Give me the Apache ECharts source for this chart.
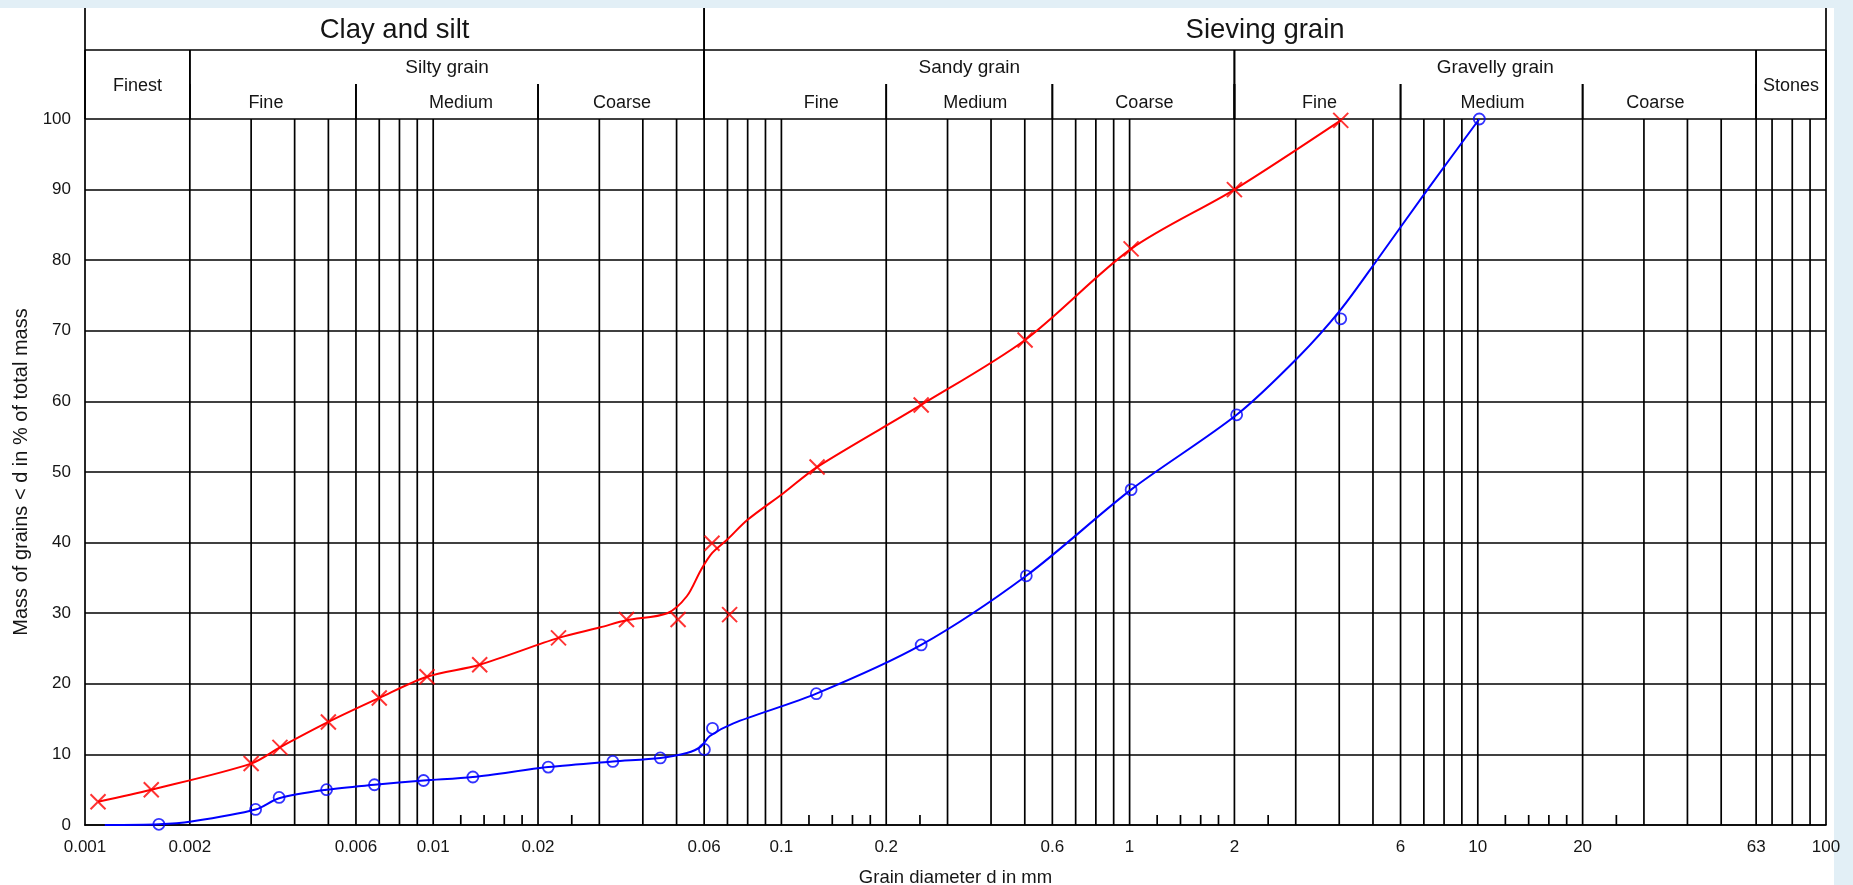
<!DOCTYPE html>
<html>
<head>
<meta charset="utf-8">
<script src="https://cdn.jsdelivr.net/npm/echarts@6/dist/echarts.min.js"></script>
<style>
  html, body { margin: 0; padding: 0; background: #fff; }
  #chart { width: 1853px; height: 885px; }
</style>
</head>
<body>
<div id="chart"></div>
<script>
// Grain size distribution curves (two samples).
// [grain diameter in mm, mass % smaller than d]

// red sample: measured crosses, and the fitted curve drawn through them
const redMarks = [
  [0.00109, 3.3], [0.00155, 5.0], [0.0030, 8.7], [0.00363, 11.0], [0.0050, 14.6],
  [0.0070, 18.0], [0.0096, 21.0], [0.0136, 22.7], [0.0229, 26.5], [0.0359, 29.1],
  [0.0505, 29.1], [0.0632, 39.9], [0.0710, 29.8], [0.1266, 50.7], [0.252, 59.5],
  [0.501, 68.7], [1.01, 81.6], [2.0, 90.0], [4.04, 99.8]
];
const redCurve = [
  [0.00109, 3.3], [0.00155, 5.0], [0.0030, 8.7], [0.00363, 11.0], [0.0050, 14.6],
  [0.0070, 18.0], [0.0096, 21.0], [0.0136, 22.7], [0.0229, 26.5], [0.0302, 28.0],
  [0.0359, 29.0], [0.047, 30.0], [0.0535, 32.4], [0.0587, 36.1], [0.0632, 38.5],
  [0.0698, 40.4], [0.0798, 43.2], [0.1013, 47.0], [0.1266, 50.7], [0.252, 59.5],
  [0.501, 68.7], [1.01, 81.6], [2.0, 90.0], [4.04, 99.8]
];

// blue sample: measured circles, and its curve
const blueMarks = [
  [0.00163, 0.1], [0.00309, 2.2], [0.00361, 3.9], [0.00494, 5.0], [0.00678, 5.7],
  [0.00938, 6.3], [0.0130, 6.8], [0.0214, 8.2], [0.0328, 9.0], [0.0449, 9.5],
  [0.0601, 10.7], [0.0634, 13.7], [0.126, 18.6], [0.252, 25.5], [0.505, 35.3],
  [1.01, 47.5], [2.03, 58.1], [4.04, 71.7], [10.1, 100]
];
const blueCurve = [
  [0.00114, 0], [0.00163, 0.1], [0.00202, 0.5], [0.00309, 2.2], [0.00361, 3.8],
  [0.00494, 5.0], [0.00678, 5.7], [0.00938, 6.3], [0.0130, 6.8], [0.0214, 8.2],
  [0.0328, 9.0], [0.0449, 9.5], [0.0535, 10.2], [0.0587, 11.1], [0.0623, 12.6],
  [0.0728, 14.4], [0.126, 18.6], [0.252, 25.5], [0.505, 35.3], [1.01, 47.5],
  [2.03, 58.1], [3.07, 66.4], [4.04, 73.0], [5.15, 80.1], [7.17, 90.0], [10.1, 100]
];

// x scale furniture
const gridLinesMm = [
  0.002, 0.003, 0.004, 0.005, 0.006, 0.007, 0.008, 0.009,
  0.01, 0.02, 0.03, 0.04, 0.05, 0.06, 0.07, 0.08, 0.09,
  0.1, 0.2, 0.3, 0.4, 0.5, 0.6, 0.7, 0.8, 0.9,
  1, 2, 3, 4, 5, 6, 7, 8, 9,
  10, 20, 30, 40, 50, 63, 70, 80, 90, 100
];
const shortTicksMm = [
  0.012, 0.014, 0.016, 0.018, 0.025,
  0.12, 0.14, 0.16, 0.18, 0.25,
  1.2, 1.4, 1.6, 1.8, 2.5,
  12, 14, 16, 18, 25
];
const xTickLabels = ['0.001', '0.002', '0.006', '0.01', '0.02', '0.06', '0.1', '0.2',
  '0.6', '1', '2', '6', '10', '20', '63', '100'];

// header classification
const bandNames = ['Clay and silt', 'Sieving grain'];
const bandEdges = [0.001, 0.06, 100];
const groupNames = ['Finest', 'Silty grain', 'Sandy grain', 'Gravelly grain', 'Stones'];
const groupEdges = [0.001, 0.002, 0.06, 2, 63, 100];
const subNames = ['Fine', 'Medium', 'Coarse'];
const siltySubEdges = [0.002, 0.006, 0.02, 0.06];
const sandySubEdges = [0.06, 0.2, 0.6, 2];
const gravelSubEdges = [2, 6, 20, 63];

const FONT = 'Liberation Sans, Arial, Helvetica, sans-serif';
const INK = '#151515';
const LINE_W = 1.7;
// the scanned sub-class labels are not quite centred in their cells (px nudges)
const SUB_LABEL_NUDGE = [-7, 14, 1, 26, 6, 1, 2, 1, -14];

const headerCells = [];
bandNames.forEach((name, i) => headerCells.push({ level: 0, from: bandEdges[i], to: bandEdges[i + 1], name }));
groupNames.forEach((name, i) => {
  const hasSubs = name !== 'Finest' && name !== 'Stones';
  headerCells.push({ level: 1, from: groupEdges[i], to: groupEdges[i + 1], name, hasSubs });
});
let subIdx = 0;
[siltySubEdges, sandySubEdges, gravelSubEdges].forEach((edges) => {
  subNames.forEach((name, i) => {
    headerCells.push({ level: 2, from: edges[i], to: edges[i + 1], name, nudge: SUB_LABEL_NUDGE[subIdx++] });
  });
});

function vline(x, y0, y1) {
  return { type: 'line', shape: { x1: x, y1: y0, x2: x, y2: y1 }, style: { stroke: '#000', lineWidth: LINE_W } };
}

function renderHeader(params, api) {
  const cell = headerCells[params.dataIndex];
  const cs = params.coordSys;
  const x0 = api.coord([cell.from, 0])[0];
  const x1 = api.coord([cell.to, 0])[0];
  const top = cs.y, bottom = cs.y + cs.height;
  const row1 = top + 42, row2 = top + 76;
  const children = [];
  let textY, fontSize;
  if (cell.level === 0) {
    children.push(vline(x0, top, bottom), vline(x1, top, bottom));
    children.push({ type: 'line', shape: { x1: x0, y1: row1, x2: x1, y2: row1 }, style: { stroke: '#000', lineWidth: LINE_W } });
    textY = (top + row1) / 2 + 1;
    fontSize = 27.5;
  } else if (cell.level === 1) {
    children.push(vline(x0, row1, bottom), vline(x1, row1, bottom));
    textY = cell.hasSubs ? (row1 + row2) / 2 + 1 : (row1 + bottom) / 2 + 2;
    fontSize = cell.hasSubs ? 19 : 18;
  } else {
    children.push(vline(x0, row2, bottom), vline(x1, row2, bottom));
    textY = (row2 + bottom) / 2 + 2;
    fontSize = 18;
  }
  children.push({
    type: 'text',
    style: {
      x: (x0 + x1) / 2 + (cell.nudge || 0), y: textY, text: cell.name,
      fill: INK, font: `${fontSize}px ${FONT}`, align: 'center', verticalAlign: 'middle'
    }
  });
  return { type: 'group', children };
}

function renderGridLine(params, api) {
  const v = api.value(0);
  const p0 = api.coord([v, 0]);
  const p1 = api.coord([v, 100]);
  return vline(p0[0], p0[1], p1[1]);
}

function renderShortTick(params, api) {
  const p0 = api.coord([api.value(0), 0]);
  return vline(p0[0], p0[1], p0[1] - 10);
}

function renderXLabel(params, api) {
  const p0 = api.coord([api.value(0), 0]);
  return {
    type: 'text',
    style: {
      x: p0[0], y: p0[1] + 22, text: xTickLabels[params.dataIndex],
      fill: INK, font: `17px ${FONT}`, align: 'center', verticalAlign: 'middle'
    }
  };
}

const chart = echarts.init(document.getElementById('chart'));

chart.setOption({
  animation: false,
  backgroundColor: '#ffffff',
  textStyle: { fontFamily: FONT, color: INK },
  graphic: [
    { type: 'rect', shape: { x: 0, y: 0, width: 1853, height: 8 }, style: { fill: '#e2eff6' }, z: -10 },
    { type: 'rect', shape: { x: 1834, y: 0, width: 19, height: 885 }, style: { fill: '#e2eff6' }, z: -10 }
  ],
  grid: [
    { left: 85, right: 27, top: 119, bottom: 60, outerBoundsMode: 'none' },
    { left: 85, right: 27, top: 8, height: 111, outerBoundsMode: 'none' }
  ],
  xAxis: [
    {
      gridIndex: 0, type: 'log', logBase: 10, min: 0.001, max: 100,
      name: 'Grain diameter d in mm', nameLocation: 'middle', nameGap: 43,
      nameTextStyle: { fontSize: 18.5, color: INK, fontFamily: FONT },
      axisLine: { show: true, onZero: false, lineStyle: { color: '#000', width: LINE_W } },
      axisTick: { show: false }, axisLabel: { show: false }, splitLine: { show: false }
    },
    { gridIndex: 1, type: 'log', logBase: 10, min: 0.001, max: 100, show: false }
  ],
  yAxis: [
    {
      gridIndex: 0, type: 'value', min: 0, max: 100, interval: 10,
      name: 'Mass of grains < d in % of total mass', nameLocation: 'middle', nameGap: 53,
      nameTextStyle: { fontSize: 20, color: INK, fontFamily: FONT },
      axisLine: { show: true, lineStyle: { color: '#000', width: LINE_W } },
      axisTick: { show: false },
      axisLabel: { margin: 14, fontSize: 17, color: INK, fontFamily: FONT },
      splitLine: { show: true, lineStyle: { color: '#000', width: LINE_W } }
    },
    { gridIndex: 1, type: 'value', min: 0, max: 1, show: false }
  ],
  series: [
    {
      type: 'custom', name: 'grid', xAxisIndex: 0, yAxisIndex: 0, z: 1, silent: true,
      renderItem: renderGridLine, data: gridLinesMm.map((v) => [v, 0])
    },
    {
      type: 'custom', name: 'ticks', xAxisIndex: 0, yAxisIndex: 0, z: 1, silent: true,
      renderItem: renderShortTick, data: shortTicksMm.map((v) => [v, 0])
    },
    {
      type: 'custom', name: 'labels', xAxisIndex: 0, yAxisIndex: 0, z: 1, silent: true,
      renderItem: renderXLabel, data: xTickLabels.map((s) => [parseFloat(s), 0])
    },
    {
      type: 'custom', name: 'header', xAxisIndex: 1, yAxisIndex: 1, z: 1, silent: true,
      renderItem: renderHeader, data: headerCells.map((c) => [c.from, c.to, 0]),
      encode: { x: [0, 1], y: 2 }
    },
    {
      type: 'line', name: 'red curve', data: redCurve, smooth: 0.3, showSymbol: false, z: 3,
      lineStyle: { color: '#ff0000', width: 2 }
    },
    {
      type: 'scatter', name: 'red', data: redMarks, z: 4,
      symbol: 'path://M0,0L10,10M10,0L0,10', symbolSize: 15,
      itemStyle: { color: 'none', borderColor: '#ff0000', borderWidth: 2 }
    },
    {
      type: 'line', name: 'blue curve', data: blueCurve, smooth: 0.3, showSymbol: false, z: 3,
      lineStyle: { color: '#0000ff', width: 2 }
    },
    {
      type: 'scatter', name: 'blue', data: blueMarks, z: 4,
      symbol: 'circle', symbolSize: 11,
      itemStyle: { color: 'transparent', borderColor: '#0000ff', borderWidth: 1.8 }
    }
  ]
});
</script>
</body>
</html>
